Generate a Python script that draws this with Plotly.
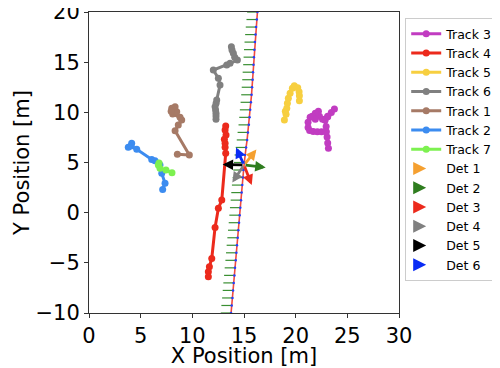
import plotly.graph_objects as go

# ---------------- data (metres) ----------------
track3_x = [23.17, 23.10, 23.04, 22.97, 22.95, 22.85, 23.10, 23.45, 23.75, 23.10, 22.60, 22.30, 22.20, 21.90, 21.60, 21.90, 21.40, 21.20, 21.20, 21.35, 21.70, 22.10, 22.50, 22.90]
track3_y = [6.41, 6.94, 7.54, 8.07, 8.60, 9.20, 9.60, 9.98, 10.33, 9.55, 9.30, 9.60, 10.10, 9.90, 9.60, 9.30, 9.50, 9.00, 8.50, 8.20, 8.10, 8.07, 8.07, 8.10]

track4_x = [13.23, 13.17, 13.26, 13.10, 13.17, 13.17, 13.23, 12.85, 12.52, 12.20, 11.88, 11.65, 11.55, 11.55]
track4_y = [8.63, 8.24, 7.74, 7.31, 6.91, 6.51, 5.91, 1.26, 0.43, -1.47, -4.56, -5.39, -5.89, -6.39]

track5_x = [18.91, 19.07, 19.00, 19.14, 19.20, 19.29, 19.46, 19.68, 19.87, 20.20, 20.33, 20.36, 20.36]
track5_y = [9.23, 9.80, 10.10, 10.40, 10.90, 11.40, 11.89, 12.39, 12.65, 12.45, 12.05, 11.65, 11.16]

track6_x = [12.29, 12.29, 12.29, 12.25, 12.20, 12.30, 12.36, 12.68, 12.52, 12.03, 13.33, 13.65, 14.36, 14.10, 13.97, 13.84, 13.78]
track6_y = [9.30, 9.63, 9.90, 10.23, 10.56, 10.90, 11.23, 12.72, 13.40, 14.22, 14.72, 14.89, 15.21, 15.50, 15.88, 16.21, 16.54]

track1_x = [8.55, 9.71, 8.33, 8.64, 8.97, 8.81, 8.10, 8.49, 8.33, 8.01, 7.95]
track1_y = [5.81, 5.74, 8.17, 8.73, 9.23, 9.50, 9.83, 10.06, 10.56, 10.40, 10.10]

track2_x = [4.13, 3.80, 4.07, 4.62, 6.07, 6.39, 6.87, 7.04, 7.36, 7.13]
track2_y = [6.91, 6.51, 6.64, 6.31, 5.31, 5.17, 4.75, 3.92, 2.92, 2.32]

track7_x = [6.78, 6.71, 6.87, 7.45, 8.03]
track7_y = [4.95, 4.75, 4.42, 4.25, 3.98]

road_y = [-10, -9.25, -8.5, -7.75, -7, -6.25, -5.5, -4.75, -4, -3.25, -2.5, -1.75, -1, -0.25,
          0.5, 1.25, 2, 2.75, 3.5, 4.25, 5, 5.75, 6.5, 7.25, 8, 8.75, 9.5, 10.25, 11, 11.75,
          12.5, 13.25, 14, 14.75, 15.5, 16.25, 17, 17.75, 18.5, 19.25, 20]
road_x = [13.75, 13.81, 13.88, 13.94, 14.00, 14.07, 14.13, 14.20, 14.26, 14.32, 14.39, 14.45, 14.52, 14.58,
          14.64, 14.71, 14.77, 14.83, 14.90, 14.96, 15.03, 15.09, 15.20, 15.30, 15.38, 15.47, 15.54, 15.60, 15.67, 15.73,
          15.78, 15.83, 15.87, 15.92, 15.96, 16.00, 16.05, 16.11, 16.17, 16.24, 16.30]
hatch_len = 1.0

det_origin = (15.0, 4.75)
det_tip_x = [16.20, 17.10, 15.75, 13.87, 12.93, 14.23]
det_tip_y = [6.30, 4.50, 2.75, 3.00, 4.80, 6.50]
det_names = ["Det 1", "Det 2", "Det 3", "Det 4", "Det 5", "Det 6"]
det_colors = ["#f5a030", "#2f7d1f", "#ec2a1c", "#808080", "#000000", "#0a2cf5"]

tracks = [
    ("Track 3", track3_x, track3_y, "#c13cc1"),
    ("Track 4", track4_x, track4_y, "#ec2a1c"),
    ("Track 5", track5_x, track5_y, "#f7cf40"),
    ("Track 6", track6_x, track6_y, "#808080"),
    ("Track 1", track1_x, track1_y, "#a67a66"),
    ("Track 2", track2_x, track2_y, "#3c8cf0"),
    ("Track 7", track7_x, track7_y, "#7df150"),
]

fig = go.Figure()

# road hatching
hx, hy = [], []
for x, y in zip(road_x, road_y):
    hx += [x - hatch_len, x, None]
    hy += [y, y, None]
fig.add_trace(go.Scatter(x=hx, y=hy, mode="lines", line=dict(color="#3a8f32", width=1.2),
                         showlegend=False, hoverinfo="skip"))
fig.add_trace(go.Scatter(x=road_x, y=road_y, mode="lines+markers",
                         line=dict(color="rgba(236,42,28,0.85)", width=1.6),
                         marker=dict(color="#2040ff", size=2.5),
                         showlegend=False, hoverinfo="skip"))

for name, xs, ys, c in tracks:
    fig.add_trace(go.Scatter(x=xs, y=ys, mode="lines+markers", name=name,
                             line=dict(color=c, width=3),
                             marker=dict(color=c, size=7)))

for name, c in zip(det_names, det_colors):
    fig.add_trace(go.Scatter(x=[None], y=[None], mode="markers", name=name,
                             marker=dict(symbol="arrow-right", color=c, size=13,
                                         line=dict(width=0))))

for tx, ty, c in zip(det_tip_x, det_tip_y, det_colors):
    fig.add_annotation(x=tx, y=ty, ax=det_origin[0], ay=det_origin[1],
                       xref="x", yref="y", axref="x", ayref="y",
                       showarrow=True, arrowhead=2, arrowsize=0.75, arrowwidth=2.8,
                       arrowcolor=c, text="")

font = "DejaVu Sans"
axis_common = dict(showgrid=False, zeroline=False, showline=True, linecolor="#333",
                   linewidth=1, mirror=True, ticks="outside", ticklen=4, tickcolor="#333",
                   automargin=False, ticklabeloverflow="allow",
                   tickfont=dict(family=font, size=21, color="black"))
fig.update_xaxes(range=[0, 30], tickvals=[0, 5, 10, 15, 20, 25, 30],
                 title=dict(text="X Position [m]", font=dict(family=font, size=21, color="black"), standoff=5),
                 **axis_common)
fig.update_yaxes(range=[-10, 20], tickvals=[-10, -5, 0, 5, 10, 15, 20],
                 title=dict(text="Y Position [m]", font=dict(family=font, size=21, color="black"), standoff=0),
                 **axis_common)

# the page body adds an 8 px offset, so the figure is 492x360 with margins shifted by 8
fig.update_layout(
    width=492, height=360,
    margin=dict(l=81, r=101, t=4, b=55, autoexpand=False),
    plot_bgcolor="white", paper_bgcolor="white",
    font=dict(family=font, color="black"),
    legend=dict(x=1.02, y=0.98, xanchor="left", yanchor="top",
                bordercolor="#cccccc", borderwidth=1, bgcolor="white",
                font=dict(family=font, size=12.5, color="black"),
                itemwidth=30, tracegroupgap=0),
    showlegend=True,
)

fig.write_html("out.html")
